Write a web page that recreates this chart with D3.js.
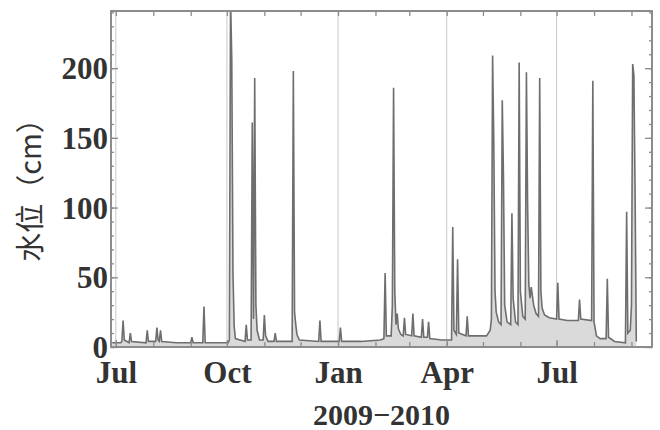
<!DOCTYPE html>
<html><head><meta charset="utf-8">
<script src="https://cdn.jsdelivr.net/npm/d3@7"></script>
<style>
html,body{margin:0;padding:0;background:#fff;}
svg{display:block;}
</style>
</head><body>
<svg id="chart" width="660" height="430"></svg>
<script>
// ---- data ----
const dates = [
"2009-06-28","2009-07-05","2009-07-06","2009-07-07","2009-07-08","2009-07-12","2009-07-13","2009-07-14",
"2009-07-26","2009-07-27","2009-07-28","2009-08-03","2009-08-04","2009-08-05","2009-08-06","2009-08-07","2009-08-08",
"2009-08-20","2009-09-01","2009-09-02","2009-09-03","2009-09-11","2009-09-12","2009-09-13",
"2009-10-02","2009-10-03","2009-10-04","2009-10-05","2009-10-06","2009-10-07","2009-10-08",
"2009-10-16","2009-10-17","2009-10-18","2009-10-21","2009-10-22","2009-10-23","2009-10-24","2009-10-25","2009-10-26","2009-10-28",
"2009-10-31","2009-11-01","2009-11-02","2009-11-04","2009-11-09","2009-11-10","2009-11-11",
"2009-11-24","2009-11-25","2009-11-26","2009-11-27","2009-11-28","2009-11-30",
"2009-12-16","2009-12-17","2009-12-18","2010-01-02","2010-01-03","2010-01-04","2010-01-20",
"2010-02-05","2010-02-08","2010-02-09","2010-02-10","2010-02-14","2010-02-15","2010-02-16","2010-02-17","2010-02-18",
"2010-02-19","2010-02-20","2010-02-22","2010-02-24","2010-02-25","2010-02-26",
"2010-03-03","2010-03-04","2010-03-05","2010-03-11","2010-03-12","2010-03-13","2010-03-16","2010-03-17","2010-03-18","2010-03-28",
"2010-04-05","2010-04-06","2010-04-07","2010-04-09","2010-04-10","2010-04-11","2010-04-17","2010-04-18","2010-04-19",
"2010-05-04","2010-05-07","2010-05-08","2010-05-09","2010-05-10","2010-05-11","2010-05-12","2010-05-14",
"2010-05-16","2010-05-17","2010-05-18","2010-05-19","2010-05-21","2010-05-24","2010-05-25","2010-05-26","2010-05-28",
"2010-05-30","2010-05-31","2010-06-01","2010-06-03","2010-06-05","2010-06-06","2010-06-07","2010-06-08","2010-06-09",
"2010-06-10","2010-06-12","2010-06-14","2010-06-16","2010-06-17","2010-06-18","2010-06-19","2010-06-21","2010-06-25",
"2010-07-01","2010-07-02","2010-07-03","2010-07-10","2010-07-19","2010-07-20","2010-07-21","2010-07-30","2010-07-31",
"2010-08-01","2010-08-03","2010-08-06","2010-08-11","2010-08-12","2010-08-13","2010-08-18","2010-08-27","2010-08-28",
"2010-08-29","2010-08-31","2010-09-01","2010-09-02","2010-09-03","2010-09-04","2010-09-05"
];
const levels = [
3,3,4,19,5,3,10,4,
3,12,4,4,14,5,4,12,4,
3,3,7,3,3,29,3,
3,5,250,207,53,15,6,
4,16,5,5,161,20,193,30,12,5,
5,23,8,4,4,10,4,
4,198,25,16,9,5,
4,19,4,4,14,4,4,
5,6,53,8,8,30,186,40,16,
24,13,9,8,21,9,
8,24,8,7,20,7,7,18,6,5,
5,86,12,9,63,10,8,22,8,
8,12,20,209,146,40,25,18,
16,177,122,30,18,16,96,35,18,
16,204,40,22,20,197,102,45,35,
43,30,24,22,193,40,28,23,21,
20,46,20,19,19,34,20,19,191,
18,8,6,6,49,7,4,3,97,
10,12,30,203,195,110,4
];
const yTicks = [0, 50, 100, 150, 200];
const xTickDates = ["2009-07-01","2009-10-01","2010-01-01","2010-04-01","2010-07-01"];
const xDomain = ["2009-06-27","2010-09-18"];
const yDomain = [0, 241];
const xTitle = "2009\u22122010";
const yTitle = "水位（cm）";

// ---- drawing ----
const W = 660, H = 430;
const m = {left: 111, top: 11, right: 8, bottom: 83};
const iw = W - m.left - m.right, ih = H - m.top - m.bottom;
const parse = d3.utcParse("%Y-%m-%d");
const data = dates.map((d, i) => ({date: parse(d), v: levels[i]}));

const svg = d3.select("#chart");
const x = d3.scaleUtc().domain(xDomain.map(parse)).range([0, iw]);
const y = d3.scaleLinear().domain(yDomain).range([ih, 0]);

const g = svg.append("g").attr("transform", `translate(${m.left},${m.top})`);

g.append("clipPath").attr("id", "clip").append("rect")
  .attr("width", iw).attr("height", ih);

// vertical gridlines at quarter ticks
g.append("g").selectAll("line").data(xTickDates.map(parse)).join("line")
  .attr("x1", d => x(d)).attr("x2", d => x(d))
  .attr("y1", 0).attr("y2", ih)
  .attr("stroke", "#c8c8c8").attr("stroke-width", 1);

const plot = g.append("g").attr("clip-path", "url(#clip)");
plot.append("path").datum(data)
  .attr("fill", "#dadada")
  .attr("d", d3.area().x(d => x(d.date)).y0(y(0)).y1(d => y(d.v)));
plot.append("path").datum(data)
  .attr("fill", "none").attr("stroke", "#6e6e6e").attr("stroke-width", 1.6)
  .attr("stroke-linejoin", "miter")
  .attr("d", d3.line().x(d => x(d.date)).y(d => y(d.v)));

// axes with inward ticks
const frameColor = "#8c8c8c";
const months = d3.utcMonth.range(x.domain()[0], x.domain()[1]);
const minorY = d3.range(0, 241, 10);

function styleAxis(sel) {
  sel.select(".domain").remove();
  sel.selectAll(".tick line").attr("stroke", frameColor).attr("stroke-width", 1.3);
}
const fontStyle = s => s.attr("font-family", "'Liberation Serif','Times New Roman',serif")
  .attr("font-weight", "bold").attr("font-size", 31).attr("fill", "#333");

// bottom
const xb = g.append("g").attr("transform", `translate(0,${ih})`)
  .call(d3.axisBottom(x).tickValues(months).tickSize(-5).tickFormat(""));
styleAxis(xb);
const xbl = g.append("g").attr("transform", `translate(0,${ih})`)
  .call(d3.axisBottom(x).tickValues(xTickDates.map(parse)).tickSize(-7).tickPadding(14)
    .tickFormat(d3.utcFormat("%b")));
styleAxis(xbl);
xbl.selectAll("text").call(fontStyle);

// top
const xt = g.append("g").call(d3.axisTop(x).tickValues(months).tickSize(-5).tickFormat(""));
styleAxis(xt);

// left
const yl = g.append("g").call(d3.axisLeft(y).tickValues(minorY).tickSize(-3).tickFormat(""));
styleAxis(yl);
const yll = g.append("g").call(d3.axisLeft(y).tickValues(yTicks).tickSize(-7).tickPadding(3));
styleAxis(yll);
yll.selectAll("text").call(fontStyle).attr("dy", "0.34em");

// right
const yr = g.append("g").attr("transform", `translate(${iw},0)`)
  .call(d3.axisRight(y).tickValues(minorY).tickSize(-3).tickFormat(""));
styleAxis(yr);
const yrr = g.append("g").attr("transform", `translate(${iw},0)`)
  .call(d3.axisRight(y).tickValues(yTicks).tickSize(-7).tickFormat(""));
styleAxis(yrr);

// frame
g.append("rect").attr("width", iw).attr("height", ih)
  .attr("fill", "none").attr("stroke", frameColor).attr("stroke-width", 2);

// titles
svg.append("text").text(xTitle)
  .attr("x", m.left + iw / 2).attr("y", 425).attr("text-anchor", "middle")
  .call(fontStyle).attr("font-size", 30);
svg.append("text").text(yTitle)
  .attr("transform", `translate(41,183) rotate(-90)`)
  .attr("text-anchor", "middle")
  .attr("font-family", "'Noto Sans CJK SC','Noto Serif CJK SC',serif")
  .attr("font-size", 29).attr("fill", "#333");
</script>
</body></html>
